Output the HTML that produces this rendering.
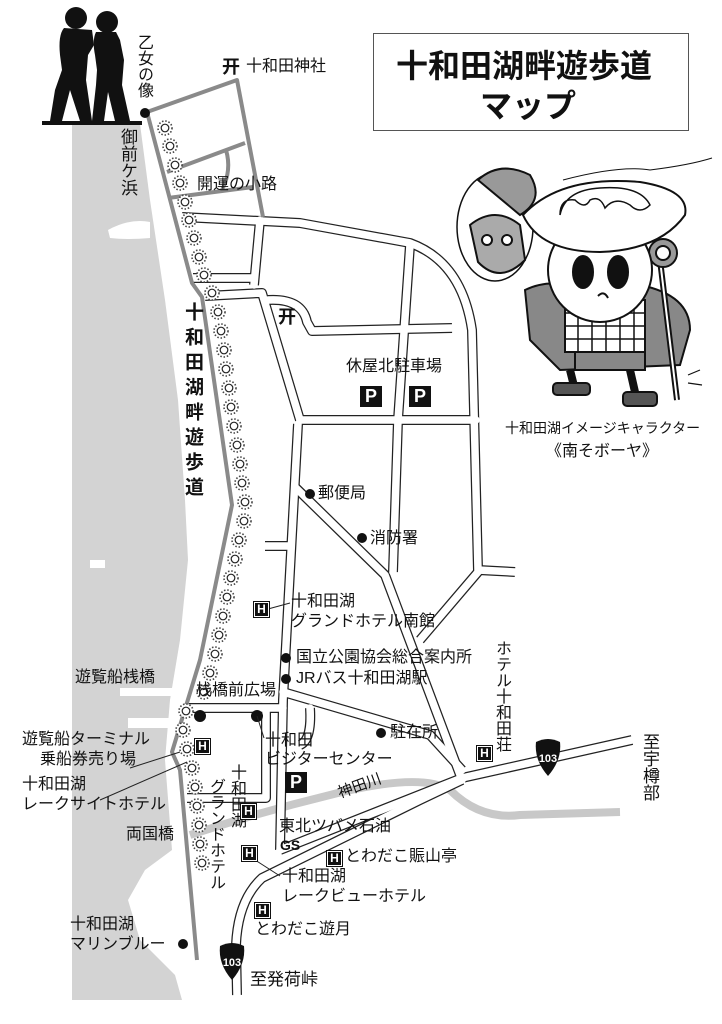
<!DOCTYPE html>
<html><head><meta charset="utf-8">
<style>
html,body{margin:0;padding:0;background:#fff}
#w{position:relative;width:722px;height:1024px;overflow:hidden;background:#fff;font-family:"Liberation Sans","Noto Sans CJK JP",sans-serif;color:#111}
svg{position:absolute;left:0;top:0}
.t{position:absolute;font-size:16px;line-height:1;white-space:nowrap}
.v{position:absolute;writing-mode:vertical-rl;font-size:16px;line-height:1;white-space:nowrap}
.h{position:absolute;width:15px;height:15px;background:#111;color:#fff;font:bold 12px/15px "Liberation Sans",sans-serif;text-align:center;border:1px solid #111;box-shadow:0 0 0 1px #fff inset}
.p{position:absolute;width:22px;height:21px;background:#111;color:#fff;font:bold 18px/21px "Liberation Sans",sans-serif;text-align:center}
</style></head><body><div id="w">
<svg width="722" height="1024" viewBox="0 0 722 1024">
<defs>
<g id="l"><circle r="7" fill="#fff" stroke="#444" stroke-width="1.6" stroke-dasharray="1.5 1.8"/><circle r="3.8" fill="#fff" stroke="#222" stroke-width="1.2"/></g>
</defs>
<!-- lake -->
<path d="M72,124 L140,124 L150,200 L165,300 L178,400 L185,500 L188,560 L180,640 L170,700 L165,760 L172,850 L145,870 L128,900 L140,940 L175,975 L182,1000 L72,1000 Z" fill="#d3d3d3"/>
<path d="M108,230 Q130,218 150,222 L150,238 Q128,240 110,238 Z" fill="#fff"/>
<rect x="120" y="688" width="60" height="8" fill="#fff"/>
<rect x="128" y="718" width="50" height="10" fill="#fff"/>
<rect x="90" y="560" width="15" height="8" fill="#fff"/>
<!-- river -->
<path d="M190,835 Q260,812 330,795 Q420,772 450,790 Q480,820 520,815 L620,812" fill="none" stroke="#c8c8c8" stroke-width="8"/>
<!-- roads: outlines -->
<g fill="none" stroke="#222" stroke-width="10" stroke-linejoin="round" stroke-linecap="butt">
<path id="r1" d="M182,217 L300,223 L410,243 Q462,262 472,330 L478,570 L515,572"/>
<path d="M478,572 L420,640"/>
<path d="M260,220 L254,285"/>
<path d="M193,278 L254,278"/>
<path d="M205,296 L262,293 L300,420"/>
<path d="M268,300 Q302,298 307,322 L312,331 L452,328"/>
<path d="M410,245 L398,420 L393,572"/>
<path d="M300,420 L476,420"/>
<path d="M298,424 L283,700 L280,850"/>
<path d="M296,488 L385,575 L462,780"/>
<path d="M265,546 L290,546"/>
<path d="M187,708 L283,708"/>
<path d="M283,692 L430,735 L462,770"/>
<path d="M266,710 L266,798 L187,798"/>
<path d="M310,708 Q312,740 300,745"/>
<path d="M280,850 L462,778 L632,740"/>
<path d="M462,780 L420,800 L262,878 Q238,900 236,945 L237,995"/>
</g>
<g fill="none" stroke="#fff" stroke-width="7.5" stroke-linejoin="round" stroke-linecap="round">
<path d="M182,217 L300,223 L410,243 Q462,262 472,330 L478,570 L515,572"/>
<path d="M478,572 L420,640"/>
<path d="M260,220 L254,285"/>
<path d="M193,278 L254,278"/>
<path d="M205,296 L262,293 L300,420"/>
<path d="M268,300 Q302,298 307,322 L312,331 L452,328"/>
<path d="M410,245 L398,420 L393,572"/>
<path d="M300,420 L476,420"/>
<path d="M298,424 L283,700 L280,850"/>
<path d="M296,488 L385,575 L462,780"/>
<path d="M265,546 L290,546"/>
<path d="M187,708 L283,708"/>
<path d="M283,692 L430,735 L462,770"/>
<path d="M266,710 L266,798 L187,798"/>
<path d="M310,708 Q312,740 300,745"/>
<path d="M280,850 L462,778 L632,740"/>
<path d="M462,780 L420,800 L262,878 Q238,900 236,945 L237,995"/>
</g>
<!-- gray walking paths -->
<g fill="none" stroke="#8a8a8a" stroke-width="4" stroke-linejoin="round">
<path d="M147,112 L237,80 L263,217"/>
<path d="M167,172 L245,143"/>
<path d="M168,198 L253,187"/>
<path d="M226,150 Q232,170 222,190"/>
<path d="M147,112 L192,283 L202,297 L232,505 L200,660 L172,752 L180,770 L197,960"/>
</g>
<circle cx="145" cy="113" r="5" fill="#111"/>
<!-- lanterns -->
<g>
<use href="#l" x="165" y="128"/><use href="#l" x="170" y="146"/><use href="#l" x="175" y="165"/><use href="#l" x="180" y="183"/><use href="#l" x="185" y="202"/><use href="#l" x="189" y="220"/><use href="#l" x="194" y="238"/><use href="#l" x="199" y="257"/><use href="#l" x="204" y="275"/>
<use href="#l" x="212" y="293"/><use href="#l" x="218" y="312"/><use href="#l" x="221" y="331"/><use href="#l" x="224" y="350"/><use href="#l" x="226" y="369"/><use href="#l" x="229" y="388"/><use href="#l" x="231" y="407"/><use href="#l" x="234" y="426"/><use href="#l" x="237" y="445"/><use href="#l" x="240" y="464"/><use href="#l" x="242" y="483"/><use href="#l" x="245" y="502"/>
<use href="#l" x="244" y="521"/><use href="#l" x="239" y="540"/><use href="#l" x="235" y="559"/><use href="#l" x="231" y="578"/><use href="#l" x="227" y="597"/><use href="#l" x="223" y="616"/><use href="#l" x="219" y="635"/><use href="#l" x="215" y="654"/>
<use href="#l" x="210" y="673"/><use href="#l" x="204" y="692"/><use href="#l" x="186" y="711"/><use href="#l" x="183" y="730"/><use href="#l" x="187" y="749"/>
<use href="#l" x="192" y="768"/><use href="#l" x="195" y="787"/><use href="#l" x="197" y="806"/><use href="#l" x="199" y="825"/><use href="#l" x="200" y="844"/><use href="#l" x="202" y="863"/>
</g>
<!-- silhouettes -->
<g fill="#111">
<rect x="42" y="121" width="100" height="4"/>
<circle cx="76" cy="18" r="11"/>
<path d="M64,28 Q58,35 60,55 L62,70 L55,90 L50,121 L62,121 L70,90 L80,121 L92,121 L86,80 L88,55 L94,45 L92,30 Z"/>
<circle cx="107" cy="22" r="11"/>
<path d="M96,32 Q92,40 95,55 L97,70 L96,85 L92,121 L104,121 L108,92 L115,121 L130,121 L122,85 L124,60 L120,40 L116,32 Z"/>
</g>
<!-- torii shrine symbols -->
<!-- dots -->
<g fill="#111">
<circle cx="310" cy="494" r="5"/>
<circle cx="362" cy="538" r="5"/>
<circle cx="286" cy="658" r="5"/>
<circle cx="286" cy="679" r="5"/>
<circle cx="200" cy="716" r="6"/>
<circle cx="257" cy="716" r="6"/>
<circle cx="381" cy="733" r="5"/>
<circle cx="183" cy="944" r="5"/>
</g>
<g stroke="#222" stroke-width="1">
<line x1="268" y1="609" x2="290" y2="603"/>
<line x1="180" y1="752" x2="130" y2="768"/>
<line x1="187" y1="762" x2="100" y2="800"/>
<line x1="257" y1="716" x2="264" y2="738"/>
<line x1="252" y1="858" x2="280" y2="876"/>
<line x1="311" y1="742" x2="311" y2="745"/>
</g>
<!-- route shields -->
<g>
<path d="M536,742 Q548,736 560,742 Q562,760 548,776 Q534,760 536,742 Z" fill="#111"/>
<text x="548" y="762" font-family="Liberation Sans" font-size="11" font-weight="bold" fill="#fff" text-anchor="middle">103</text>
<path d="M220,946 Q232,940 244,946 Q246,964 232,980 Q218,964 220,946 Z" fill="#111"/>
<text x="232" y="966" font-family="Liberation Sans" font-size="11" font-weight="bold" fill="#fff" text-anchor="middle">103</text>
</g>
<text x="340" y="798" font-family="Liberation Sans,Noto Sans CJK JP" font-size="15" fill="#111" transform="rotate(-20 340 798)">神田川</text>
<!-- title box -->
<rect x="373.5" y="33.5" width="315" height="97" fill="#fff" stroke="#555" stroke-width="1"/>
<!-- character -->
<g stroke="#111" stroke-width="2">
<ellipse cx="495" cy="227" rx="38" ry="54" fill="#fff" stroke-width="1.5"/>
<path d="M478,180 Q500,160 530,175 Q545,200 520,215 Z" fill="#999"/>
<path d="M470,225 Q495,205 520,225 L525,260 Q500,285 478,262 Z" fill="#aaa"/>
<circle cx="487" cy="240" r="5" fill="#fff"/><circle cx="507" cy="240" r="5" fill="#fff"/>
<path d="M525,290 Q545,280 570,285 L640,285 Q690,295 690,330 L680,365 L560,370 L530,340 Z" fill="#888"/>
<rect x="565" y="300" width="80" height="52" fill="#fff"/>
<path d="M565,313 H645 M565,326 H645 M565,339 H645 M578,300 V352 M592,300 V352 M606,300 V352 M620,300 V352 M634,300 V352" stroke-width="1.5"/>
<rect x="575" y="352" width="70" height="18" fill="#888"/>
<path d="M570,370 L575,390 M630,370 L635,392" stroke-width="8"/>
<rect x="553" y="383" width="37" height="12" rx="4" fill="#555"/>
<rect x="623" y="392" width="34" height="14" rx="4" fill="#555"/>
<line x1="660" y1="260" x2="677" y2="400" stroke-width="6"/>
<line x1="660" y1="260" x2="677" y2="400" stroke="#fff" stroke-width="2"/>
<circle cx="663" cy="253" r="14" fill="#999"/>
<circle cx="663" cy="253" r="7" fill="#fff"/>
<circle cx="600" cy="270" r="52" fill="#fff"/>
<ellipse cx="583" cy="272" rx="10" ry="16" fill="#111"/>
<ellipse cx="618" cy="272" rx="10" ry="16" fill="#111"/>
<path d="M598,296 Q604,290 608,298" fill="none"/>
<path d="M523,215 Q560,175 640,182 Q690,190 685,215 Q660,250 600,252 Q540,252 523,215 Z" fill="#fff"/>
<path d="M560,215 Q560,198 575,200 Q585,210 590,200 Q600,195 605,208 Q615,196 630,205 Q640,215 650,205 Q640,185 600,188 Q565,190 560,215 Z" fill="#fff" stroke-width="1.5"/>
<path d="M563,180 Q620,165 650,170 Q690,165 712,158" fill="none" stroke-width="1"/>
<line x1="688" y1="375" x2="700" y2="370" stroke-width="1.2"/><line x1="688" y1="383" x2="702" y2="385" stroke-width="1.2"/>
</g>
</svg>

<div class="t" style="left:396px;top:50px;font-size:32px;font-weight:bold;letter-spacing:0px">十和田湖畔遊歩道</div>
<div class="t" style="left:480px;top:90px;font-size:32px;font-weight:bold">マップ</div>

<div class="t" style="left:222px;top:58px;font-size:18px;font-weight:bold">开</div>
<div class="t" style="left:246px;top:59px;font-size:16px">十和田神社</div>
<div class="v" style="left:135px;top:34px;font-size:16px">乙女の像</div>
<div class="v" style="left:119px;top:128px;font-size:17px">御前ケ浜</div>
<div class="t" style="left:197px;top:177px;font-size:16px">開運の小路</div>
<div class="v" style="left:183px;top:302px;font-size:19px;font-weight:bold;letter-spacing:6px">十和田湖畔遊歩道</div>
<div class="t" style="left:278px;top:308px;font-size:18px;font-weight:bold">开</div>
<div class="t" style="left:346px;top:359px;font-size:16px">休屋北駐車場</div>
<div class="p" style="left:360px;top:386px">P</div>
<div class="p" style="left:409px;top:386px">P</div>
<div class="t" style="left:505px;top:421px;font-size:14px">十和田湖イメージキャラクター</div>
<div class="t" style="left:546px;top:444px;font-size:16px">《南そボーヤ》</div>
<div class="t" style="left:318px;top:486px;font-size:16px">郵便局</div>
<div class="t" style="left:370px;top:531px;font-size:16px">消防署</div>
<div class="h" style="left:253px;top:601px">H</div>
<div class="t" style="left:291px;top:594px;font-size:16px">十和田湖</div>
<div class="t" style="left:291px;top:614px;font-size:16px">グランドホテル南館</div>
<div class="t" style="left:296px;top:650px;font-size:16px">国立公園協会総合案内所</div>
<div class="t" style="left:296px;top:671px;font-size:16px">JRバス十和田湖駅</div>
<div class="t" style="left:75px;top:670px;font-size:16px">遊覧船桟橋</div>
<div class="t" style="left:196px;top:683px;font-size:16px">栈橋前広場</div>
<div class="t" style="left:22px;top:732px;font-size:16px">遊覧船ターミナル</div>
<div class="t" style="left:40px;top:752px;font-size:16px">乗船券売り場</div>
<div class="h" style="left:194px;top:738px">H</div>
<div class="t" style="left:265px;top:733px;font-size:16px">十和田</div>
<div class="t" style="left:265px;top:752px;font-size:16px">ビジターセンター</div>
<div class="t" style="left:390px;top:725px;font-size:16px">駐在所</div>
<div class="v" style="left:493px;top:640px;font-size:16px">ホテル十和田荘</div>
<div class="h" style="left:476px;top:745px">H</div>
<div class="v" style="left:641px;top:733px;font-size:17px">至宇樽部</div>
<div class="t" style="left:22px;top:777px;font-size:16px">十和田湖</div>
<div class="t" style="left:22px;top:797px;font-size:16px">レークサイトホテル</div>
<div class="v" style="left:228px;top:764px;font-size:16px">十和田湖</div>
<div class="v" style="left:207px;top:778px;font-size:16px">グランドホテル</div>
<div class="h" style="left:240px;top:803px">H</div>
<div class="p" style="left:285px;top:772px">P</div>
<div class="t" style="left:126px;top:827px;font-size:16px">両国橋</div>
<div class="t" style="left:279px;top:819px;font-size:16px">東北ツバメ石油</div>
<div class="t" style="left:280px;top:838px;font-size:14px;font-weight:bold">GS</div>
<div class="h" style="left:241px;top:845px">H</div>
<div class="h" style="left:326px;top:850px">H</div>
<div class="t" style="left:345px;top:849px;font-size:16px">とわだこ賑山亭</div>
<div class="t" style="left:282px;top:869px;font-size:16px">十和田湖</div>
<div class="t" style="left:282px;top:889px;font-size:16px">レークビューホテル</div>
<div class="h" style="left:254px;top:902px">H</div>
<div class="t" style="left:255px;top:922px;font-size:16px">とわだこ遊月</div>
<div class="t" style="left:70px;top:917px;font-size:16px">十和田湖</div>
<div class="t" style="left:70px;top:937px;font-size:16px">マリンブルー</div>
<div class="t" style="left:250px;top:971px;font-size:17px">至発荷峠</div>
</div></body></html>
